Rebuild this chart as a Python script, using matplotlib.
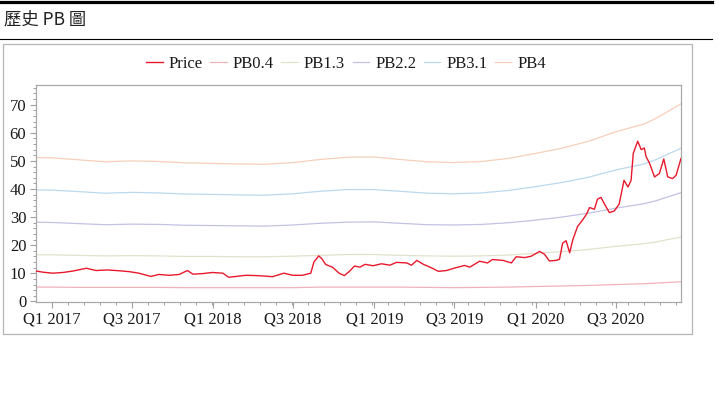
import numpy as np
import pandas as pd
import matplotlib
matplotlib.use("Agg")
import matplotlib.pyplot as plt
import matplotlib.dates as mdates
from matplotlib.ticker import AutoMinorLocator, FuncFormatter
from matplotlib.patches import Rectangle
from matplotlib.lines import Line2D

# price
price_dates = [
    "2016-11-27", "2016-12-12", "2017-01-03", "2017-01-26", "2017-02-17", "2017-03-20",
    "2017-04-11", "2017-05-07", "2017-06-03", "2017-06-25", "2017-07-17", "2017-08-13",
    "2017-08-31", "2017-09-24", "2017-10-16", "2017-11-04", "2017-11-16", "2017-12-08",
    "2017-12-30", "2018-01-23", "2018-02-05", "2018-02-22", "2018-03-16", "2018-04-08",
    "2018-04-30", "2018-05-15", "2018-06-10", "2018-06-30", "2018-07-22", "2018-08-10",
    "2018-08-17", "2018-08-28", "2018-09-04", "2018-09-13", "2018-09-28", "2018-10-13",
    "2018-10-25", "2018-11-06", "2018-11-17", "2018-11-29", "2018-12-11", "2018-12-29",
    "2019-01-17", "2019-02-05", "2019-02-20", "2019-03-15", "2019-03-26", "2019-04-07",
    "2019-04-22", "2019-05-07", "2019-05-26", "2019-06-13", "2019-07-02", "2019-07-24",
    "2019-08-05", "2019-08-27", "2019-09-14", "2019-09-25", "2019-10-19", "2019-11-07",
    "2019-11-18", "2019-12-07", "2019-12-22", "2020-01-10", "2020-01-21", "2020-02-01",
    "2020-02-16", "2020-02-24", "2020-03-02", "2020-03-10", "2020-03-18", "2020-03-25",
    "2020-04-05", "2020-04-14", "2020-04-25", "2020-05-02", "2020-05-13", "2020-05-20",
    "2020-05-28", "2020-06-05", "2020-06-16", "2020-06-27", "2020-07-08", "2020-07-19",
    "2020-07-28", "2020-08-04", "2020-08-09", "2020-08-19", "2020-08-27", "2020-09-03",
    "2020-09-07", "2020-09-15", "2020-09-26", "2020-10-07", "2020-10-17", "2020-10-26",
    "2020-11-06", "2020-11-14", "2020-11-25",
]
price = [
    10.8, 10.4, 10.05, 10.3, 10.8, 11.8,
    11.0, 11.2, 10.9, 10.6, 10.05, 8.9,
    9.6, 9.3, 9.6, 11.0, 9.7, 9.9,
    10.3, 10.05, 8.6, 8.9, 9.3, 9.2,
    9.0, 8.8, 10.05, 9.3, 9.3, 10.05,
    14.0, 16.2, 15.2, 13.1, 12.2, 10.05,
    9.2, 10.8, 12.6, 12.2, 13.2, 12.7,
    13.4, 12.9, 13.9, 13.7, 12.9, 14.6,
    13.2, 12.2, 10.7, 11.0, 11.9, 12.8,
    12.2, 14.3, 13.7, 14.9, 14.6, 13.7,
    15.9, 15.6, 16.1, 17.8, 16.8, 14.4,
    14.6, 15.0, 20.7, 21.6, 17.3, 21.9,
    26.7, 28.5, 31.0, 33.4, 32.8, 36.4,
    37.0, 34.6, 31.6, 32.2, 34.6, 43.1,
    40.7, 43.1, 52.7, 57.0, 54.0, 54.6,
    51.5, 49.1, 44.3, 45.5, 50.7, 44.3,
    43.7, 44.9, 50.9,
]

# PB bands
band_dates = [
    "2016-11-26", "2017-01-01", "2017-03-01", "2017-05-01", "2017-07-01", "2017-08-31",
    "2017-10-31", "2017-12-29", "2018-02-26", "2018-04-28", "2018-07-01", "2018-08-31",
    "2018-10-31", "2018-12-31", "2019-02-28", "2019-04-30", "2019-06-30", "2019-09-01",
    "2019-11-01", "2019-12-30", "2020-02-29", "2020-04-30", "2020-07-01", "2020-08-31",
    "2020-09-27", "2020-11-25",
]
pb04 = [5.1, 5.1, 5.0, 5.0, 5.0, 5.0, 4.9, 4.9, 4.9, 4.9, 4.9, 5.1, 5.1,
        5.1, 5.1, 5.0, 4.9, 5.0, 5.1, 5.3, 5.5, 5.7, 6.0, 6.3, 6.5, 7.0]
pb13 = [16.6, 16.6, 16.4, 16.2, 16.3, 16.2, 16.0, 16.0, 15.9, 15.9, 16.1, 16.4, 16.7,
        16.7, 16.4, 16.2, 16.1, 16.2, 16.5, 17.1, 17.7, 18.5, 19.6, 20.5, 21.1, 22.9]
pb22 = [28.2, 28.1, 27.7, 27.3, 27.5, 27.4, 27.1, 27.0, 26.9, 26.8, 27.2, 27.8, 28.2,
        28.3, 27.8, 27.3, 27.2, 27.4, 28.0, 28.9, 30.0, 31.4, 33.2, 34.7, 35.7, 38.7]
pb31 = [39.7, 39.6, 39.1, 38.5, 38.8, 38.6, 38.2, 38.1, 37.9, 37.8, 38.3, 39.2, 39.8,
        39.8, 39.2, 38.5, 38.3, 38.6, 39.5, 40.8, 42.3, 44.2, 46.8, 48.8, 50.3, 54.5]
pb4 = [51.2, 51.1, 50.4, 49.7, 50.0, 49.8, 49.3, 49.1, 48.9, 48.8, 49.4, 50.5, 51.3,
       51.4, 50.5, 49.7, 49.4, 49.8, 50.9, 52.6, 54.5, 57.0, 60.4, 63.0, 64.9, 70.3]

band_names = ["PB0.4", "PB1.3", "PB2.2", "PB3.1", "PB4"]
band_values = [pb04, pb13, pb22, pb31, pb4]
band_colors = ["#eeb3b9", "#e2e2cc", "#c2c2e3", "#bad9ee", "#f7cfba"]
price_color = "#e8192c"

serif = "Liberation Serif"

fig = plt.figure(figsize=(7.19, 3.97), dpi=100)

# header: thick top bar, title, thin rule
fig.add_artist(Line2D([0, 0.99], [1 - 1.5 / 397] * 2, color="black", lw=2.3,
                      transform=fig.transFigure))
fig.text(4 / 719, 1 - 20 / 397, "歷史 PB 圖", family=["Noto Sans CJK TC", "DejaVu Sans"],
         fontsize=12.5, va="center", ha="left", color="#222222")
fig.add_artist(Line2D([0, 0.99], [1 - 38.5 / 397] * 2, color="black", lw=0.8,
                      transform=fig.transFigure))

# outer chart frame
fig.add_artist(Rectangle((3 / 719, 1 - 334 / 397), 689 / 719, 290 / 397,
                         transform=fig.transFigure, fill=False, ec="#b4b4b4", lw=0.9))

ax = fig.add_axes([36 / 719, 1 - 302 / 397, 645 / 719, 217 / 397])

bd = pd.to_datetime(band_dates)
ax.plot(pd.to_datetime(price_dates), price, color=price_color, lw=1.0, label="Price", zorder=3)
for name, vals, col in zip(band_names, band_values, band_colors):
    ax.plot(bd, vals, color=col, lw=0.9, label=name, zorder=2)

ax.set_xlim(pd.Timestamp("2016-11-26"), pd.Timestamp("2020-11-25"))
ax.set_ylim(-0.2, 77)
ax.set_yticks(np.arange(0, 71, 10))
ax.yaxis.set_minor_locator(AutoMinorLocator(5))

ax.xaxis.set_major_locator(mdates.MonthLocator(bymonth=[1, 7]))
ax.xaxis.set_minor_locator(AutoMinorLocator(5))


def quarter_label(x, pos):
    d = mdates.num2date(x)
    return "Q%d %d" % ((d.month - 1) // 3 + 1, d.year)


ax.xaxis.set_major_formatter(FuncFormatter(quarter_label))

for s in ax.spines.values():
    s.set_color("#a8a8a8")
    s.set_linewidth(0.9)
ax.tick_params(which="major", length=4, color="#a0a0a0", width=0.8,
               labelsize=12, labelcolor="#1a1a1a", pad=3)
ax.tick_params(which="minor", length=2, color="#a0a0a0", width=0.7)
for lab in ax.get_xticklabels() + ax.get_yticklabels():
    lab.set_family(serif)

leg = fig.legend(loc="center", bbox_to_anchor=(346 / 719, 1 - 64 / 397), ncol=6,
                 frameon=False, handlelength=1.0, handletextpad=0.35, columnspacing=0.45,
                 prop={"family": serif, "size": 12})
for t in leg.get_texts():
    t.set_color("#1a1a1a")

fig.savefig("out.png", dpi=100)
